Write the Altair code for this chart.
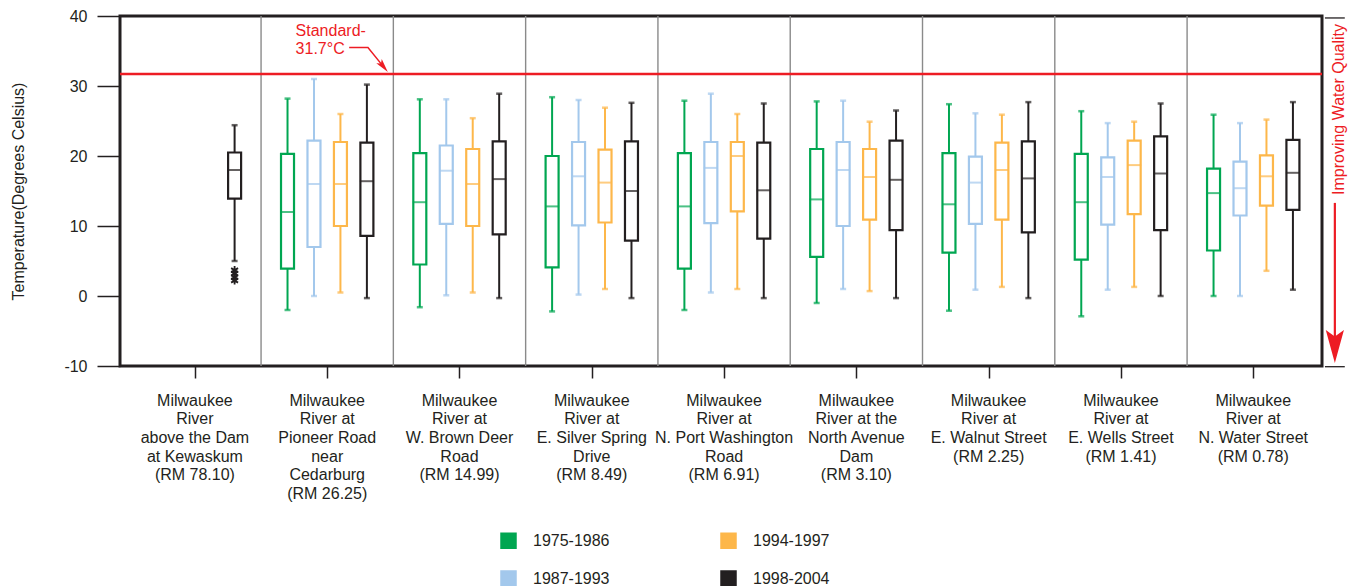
import altair as alt
import pandas as pd

FONT = "Liberation Sans"
INK = "#231F20"
RED = "#ED1C24"
GRID_GRAY = "#8A8A8A"

# Monitoring sites, upstream to downstream (RM = river mile)
sites = [
    "Milwaukee\nRiver\nabove the Dam\nat Kewaskum\n(RM 78.10)",
    "Milwaukee\nRiver at\nPioneer Road\nnear\nCedarburg\n(RM 26.25)",
    "Milwaukee\nRiver at\nW. Brown Deer\nRoad\n(RM 14.99)",
    "Milwaukee\nRiver at\nE. Silver Spring\nDrive\n(RM 8.49)",
    "Milwaukee\nRiver at\nN. Port Washington\nRoad\n(RM 6.91)",
    "Milwaukee\nRiver at the\nNorth Avenue\nDam\n(RM 3.10)",
    "Milwaukee\nRiver at\nE. Walnut Street\n(RM 2.25)",
    "Milwaukee\nRiver at\nE. Wells Street\n(RM 1.41)",
    "Milwaukee\nRiver at\nN. Water Street\n(RM 0.78)",
]
periods = ["1975-1986", "1987-1993", "1994-1997", "1998-2004"]
period_colors = ["#00A651", "#A3C8EC", "#FDB74A", INK]

# Box statistics in degrees Celsius: one row per site, one column per period
# (None where no samples were taken in that period)
whisker_low = [
    [None, None, None, 5.0],
    [-2.0, 0.0, 0.5, -0.3],
    [-1.6, 0.1, 0.5, -0.3],
    [-2.2, 0.2, 1.0, -0.3],
    [-2.0, 0.5, 1.0, -0.3],
    [-1.0, 1.0, 0.7, -0.3],
    [-2.1, 0.9, 1.3, -0.3],
    [-2.9, 0.9, 1.3, 0.0],
    [0.0, 0.0, 3.6, 0.9],
]
quartile_1 = [
    [None, None, None, 13.9],
    [3.9, 7.0, 10.0, 8.6],
    [4.5, 10.3, 10.0, 8.8],
    [4.1, 10.1, 10.5, 7.9],
    [3.9, 10.4, 12.1, 8.2],
    [5.6, 10.0, 10.9, 9.4],
    [6.2, 10.3, 10.9, 9.1],
    [5.2, 10.2, 11.7, 9.4],
    [6.5, 11.5, 12.9, 12.3],
]
medians = [
    [None, None, None, 18.0],
    [12.0, 16.0, 16.0, 16.4],
    [13.4, 17.9, 16.0, 16.7],
    [12.8, 17.1, 16.2, 15.0],
    [12.8, 18.3, 20.0, 15.1],
    [13.8, 18.0, 17.0, 16.6],
    [13.1, 16.2, 18.0, 16.8],
    [13.4, 17.0, 18.7, 17.5],
    [14.7, 15.4, 17.1, 17.6],
]
quartile_3 = [
    [None, None, None, 20.5],
    [20.3, 22.2, 22.0, 21.9],
    [20.4, 21.5, 21.0, 22.1],
    [20.0, 22.0, 20.9, 22.1],
    [20.4, 22.0, 22.0, 21.9],
    [21.0, 22.0, 21.0, 22.2],
    [20.4, 19.9, 21.9, 22.1],
    [20.3, 19.8, 22.2, 22.8],
    [18.2, 19.2, 20.1, 22.3],
]
whisker_high = [
    [None, None, None, 24.4],
    [28.2, 31.0, 26.0, 30.2],
    [28.1, 28.1, 25.4, 28.9],
    [28.4, 28.0, 26.9, 27.6],
    [27.9, 28.9, 26.0, 27.5],
    [27.8, 27.9, 24.9, 26.5],
    [27.4, 26.1, 25.9, 27.7],
    [26.4, 24.7, 24.9, 27.5],
    [25.9, 24.7, 25.2, 27.7],
]
# Outliers below the lower whisker at Kewaskum (1998-2004)
kewaskum_outliers = [3.7, 3.2, 2.7, 2.2]

standard_c = 31.7

# Side-by-side placement of the four periods within each site slot
period_offset = [-0.3, -0.1, 0.1, 0.3]

rows = []
for i in range(len(sites)):
    for k, p in enumerate(periods):
        if medians[i][k] is None:
            continue
        rows.append({
            "site": i, "period": p, "pos": i + period_offset[k],
            "low": whisker_low[i][k], "q1": quartile_1[i][k],
            "med": medians[i][k], "q3": quartile_3[i][k],
            "high": whisker_high[i][k],
        })
boxes = pd.DataFrame(rows)
outliers = pd.DataFrame({"pos": [0 + period_offset[3]] * len(kewaskum_outliers),
                         "temp": kewaskum_outliers})
site_labels = pd.DataFrame({"site": list(range(len(sites))), "label": sites})
dividers = pd.DataFrame({"x": [i + 0.5 for i in range(len(sites) - 1)]})
standard = pd.DataFrame({"temp": [standard_c]})

x_scale = alt.Scale(domain=[-0.5285, 8.482], nice=False, zero=False)
y_scale = alt.Scale(domain=[-10, 40], nice=False, zero=False)
color_scale = alt.Scale(domain=periods, range=period_colors)

x_axis = alt.Axis(values=list(range(len(sites))), labels=False, tickSize=12,
                  tickWidth=1.5, tickColor=INK, domain=False, grid=False, title="")
y_axis = alt.Axis(values=[-10, 0, 10, 20, 30, 40], tickSize=23, tickWidth=1.5,
                  tickColor=INK, labelFontSize=16, labelFont=FONT, labelColor=INK,
                  labelPadding=10, labelExpr="'' + datum.value", domain=False, grid=False,
                  title="Temperature(Degrees Celsius)", titleFontSize=16,
                  titleFont=FONT, titleFontWeight="normal", titleColor=INK,
                  titleX=-102, titleY=175, titleAngle=270, titleAlign="center",
                  titleBaseline="middle")

# Two columns filled top to bottom, hollow square swatches
legend = alt.Legend(
    title=None, orient="none", legendX=380, legendY=516, columns=2,
    symbolType="square", symbolSize=196, symbolStrokeWidth=2.5,
    symbolFillColor="white",
    labelFontSize=16, labelFont=FONT, labelColor=INK, labelOffset=16,
    columnPadding=106, rowPadding=13, padding=0,
)


def X(field):
    return alt.X(field, type="quantitative", scale=x_scale, axis=x_axis)


def Y(field):
    return alt.Y(field, type="quantitative", scale=y_scale, axis=y_axis)


def C():
    return alt.Color("period:N", scale=color_scale, legend=legend)


def F():
    # solid fill for the median bars and whisker caps (kept out of the legend)
    return alt.Fill("period:N", scale=color_scale, legend=None)


# Site dividers and the 31.7 °C water-quality standard
divider_layer = alt.Chart(dividers).mark_rule(color=GRID_GRAY, strokeWidth=1.4).encode(
    x=X("x:Q")
)
standard_layer = alt.Chart(standard).mark_rule(color=RED, strokeWidth=2.5).encode(
    y=Y("temp:Q")
)

base = alt.Chart(boxes)
# Hollow interquartile boxes; whiskers run from the box edges out to the extremes
box_layer = base.mark_bar(filled=False, size=13, strokeWidth=2.2, orient="vertical").encode(
    x=X("pos:Q"), y=Y("q1:Q"), y2="q3:Q", color=C()
)
whisker_lo = base.mark_rule(strokeWidth=2).encode(x=X("pos:Q"), y=Y("low:Q"), y2="q1:Q", color=C())
whisker_hi = base.mark_rule(strokeWidth=2).encode(x=X("pos:Q"), y=Y("q3:Q"), y2="high:Q", color=C())
median_layer = base.mark_tick(orient="horizontal", size=14, thickness=2).encode(
    x=X("pos:Q"), y=Y("med:Q"), fill=F()
)
cap_lo = base.mark_tick(orient="horizontal", size=6, thickness=2.5).encode(
    x=X("pos:Q"), y=Y("low:Q"), fill=F()
)
cap_hi = base.mark_tick(orient="horizontal", size=6, thickness=2.5).encode(
    x=X("pos:Q"), y=Y("high:Q"), fill=F()
)
asterisk = "M0,-1L0,1M-0.87,-0.5L0.87,0.5M-0.87,0.5L0.87,-0.5"
outlier_layer = alt.Chart(outliers).mark_point(
    shape=asterisk, size=64, filled=False, strokeWidth=1.8, color=INK, opacity=1
).encode(x=X("pos:Q"), y=Y("temp:Q"))

# Site names under the axis
label_layer = alt.Chart(site_labels).mark_text(
    lineBreak="\n", baseline="alphabetic", align="center", fontSize=16,
    lineHeight=18.7, font=FONT, color=INK
).encode(x=X("site:Q"), y=alt.value(389.7), text="label:N")

# "Standard" callout with a bent arrow down to the line
callout_text = pd.DataFrame({"x": [0.761], "y": [37.1], "t": ["Standard-\n31.7°C"]})
callout_layer = alt.Chart(callout_text).mark_text(
    lineBreak="\n", baseline="alphabetic", align="left", fontSize=16,
    lineHeight=18, font=FONT, color=RED
).encode(x=X("x:Q"), y=Y("y:Q"), text="t:N")
callout_path = pd.DataFrame({"x": [1.166, 1.308, 1.425], "y": [35.5, 35.5, 32.77], "o": [0, 1, 2]})
callout_line = alt.Chart(callout_path).mark_line(color=RED, strokeWidth=1.5).encode(
    x=X("x:Q"), y=Y("y:Q"), order="o:Q"
)
arrow_up = "M0,-1L0.5,1L0,0.55L-0.5,1Z"
callout_head = alt.Chart(pd.DataFrame({"x": [1.425], "y": [32.77]})).mark_point(
    shape=arrow_up, size=196, filled=True, color=RED, opacity=1, angle=141
).encode(x=X("x:Q"), y=Y("y:Q"))

# "Improving Water Quality" direction marker on the right
quality_text = alt.Chart(pd.DataFrame({"x": [8.65], "y": [26.64], "t": ["Improving Water Quality"]})).mark_text(
    angle=270, baseline="middle", align="center", fontSize=16, font=FONT, color=RED
).encode(x=X("x:Q"), y=Y("y:Q"), text="t:N")
quality_shaft = alt.Chart(pd.DataFrame({"x": [8.617], "y": [13.3], "y2": [-7.0]})).mark_rule(
    color=RED, strokeWidth=2.2
).encode(x=X("x:Q"), y=Y("y:Q"), y2="y2:Q")
arrow_down = "M0,1L-0.55,-1L0,-0.6L0.55,-1Z"
quality_head = alt.Chart(pd.DataFrame({"x": [8.617], "y": [-7.21]})).mark_point(
    shape=arrow_down, size=1089, filled=True, color=RED, opacity=1
).encode(x=X("x:Q"), y=Y("y:Q"))
quality_ends = alt.Chart(pd.DataFrame({"x": [8.542, 8.542], "x2": [8.692, 8.692], "y": [39.72, -10.1]})).mark_rule(
    color=INK, strokeWidth=1.3
).encode(x=X("x:Q"), x2="x2:Q", y=Y("y:Q"))

chart = alt.layer(
    divider_layer, standard_layer, box_layer, whisker_lo, whisker_hi, median_layer,
    cap_lo, cap_hi, outlier_layer, label_layer, callout_layer,
    callout_line, callout_head, quality_text, quality_shaft, quality_head, quality_ends,
).properties(
    width=1202, height=350,
    padding={"left": 120, "top": 16, "right": 39, "bottom": 220},
    autosize=alt.AutoSizeParams(type="none"),
).configure(
    font=FONT, background="white"
).configure_view(
    stroke=INK, strokeWidth=3
)

chart.save("out.html", embed_options={"renderer": "svg", "actions": False})
